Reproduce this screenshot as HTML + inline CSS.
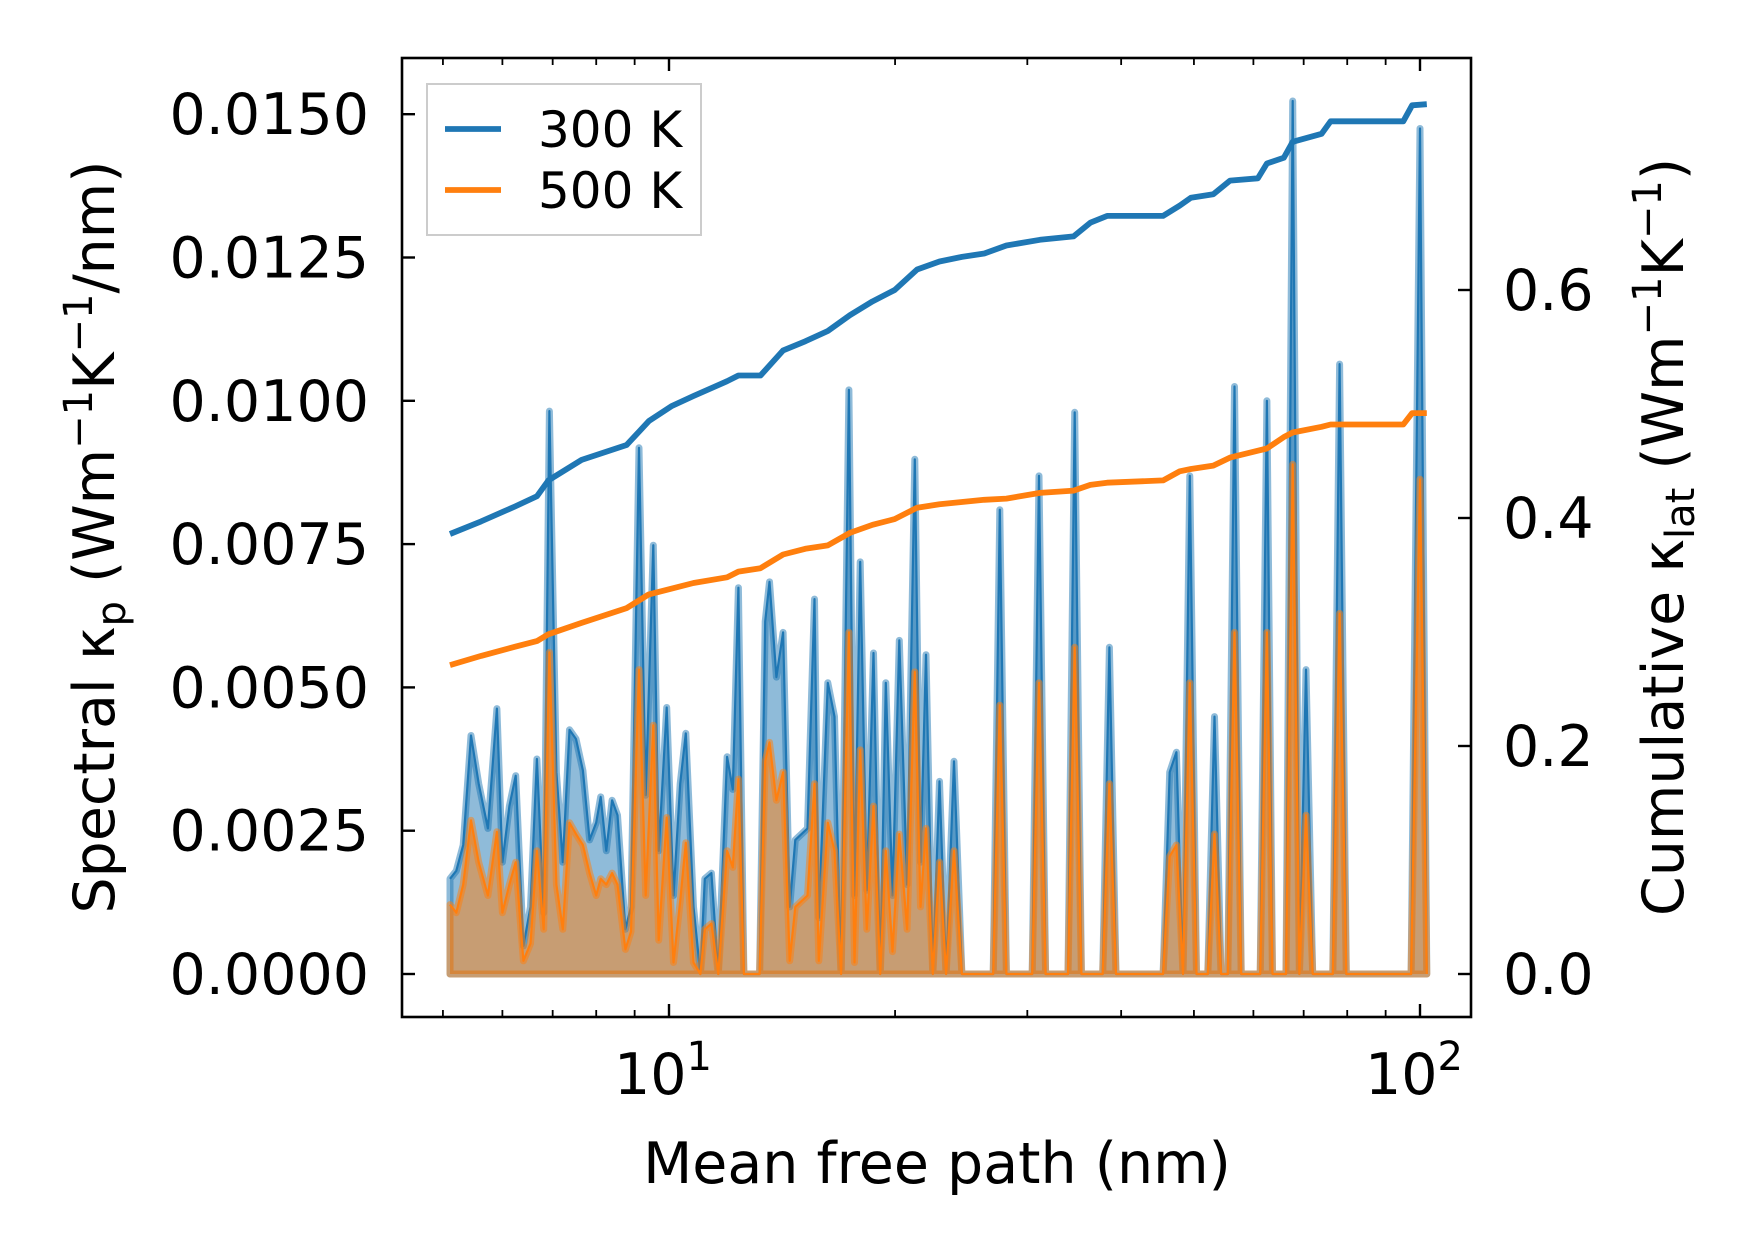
<!DOCTYPE html>
<html><head><meta charset="utf-8"><style>
html,body{margin:0;padding:0;background:#fff}
svg{display:block}
text{font-family:"DejaVu Sans","Liberation Sans",sans-serif;fill:#000}
</style></head><body>
<svg id="chart" width="1753" height="1254" viewBox="0 0 1753 1254" xmlns="http://www.w3.org/2000/svg">
<rect width="1753" height="1254" fill="#fff"/>
<g id="plot"></g>
<g id="axes"></g>
</svg>
<script>
// ---- data ----
const mfp = [5.11,5.21,5.32,5.45,5.58,5.74,5.90,6.00,6.13,6.25,6.40,6.54,6.67,6.81,6.93,7.08,7.22,7.37,7.52,7.68,7.84,8.00,8.11,8.25,8.40,8.54,8.75,8.90,9.12,9.31,9.53,9.69,9.93,10.14,10.35,10.53,10.78,11.01,11.16,11.39,11.63,11.95,12.16,12.37,12.58,12.89,13.20,13.43,13.61,13.90,14.19,14.48,14.73,15.29,15.62,15.83,16.27,16.61,16.95,17.36,17.66,17.97,18.34,18.72,19.11,19.44,19.84,20.26,20.75,21.25,21.62,21.99,22.45,22.92,23.39,23.96,24.55,27.02,27.57,28.14,30.45,31.09,31.73,33.99,34.69,35.41,37.80,38.58,39.37,45.49,46.42,47.39,48.35,49.37,50.40,52.17,53.25,54.35,55.47,56.62,57.80,61.26,62.53,63.62,66.30,67.68,69.08,70.51,71.96,76.54,78.15,79.77,97.3,100,102.1];
const kappa300 = [0.00166,0.00180,0.00225,0.00416,0.00332,0.00254,0.00463,0.00195,0.00293,0.00346,0.00049,0.00117,0.00375,0.00107,0.00982,0.00352,0.00195,0.00426,0.00410,0.00355,0.00234,0.00264,0.00309,0.00215,0.00303,0.00277,0.00078,0.00117,0.00918,0.00312,0.00748,0.00215,0.00465,0.00137,0.00332,0.00420,0.00117,0,0.00166,0.00176,0,0.00379,0.00322,0.00674,0,0,0,0.00615,0.00684,0.00518,0.00596,0.00117,0.00234,0.00254,0.00654,0.00098,0.00508,0.00449,0,0.01019,0.00137,0.00719,0.00146,0.00560,0,0.00508,0.00137,0.00582,0.00156,0.00898,0.00195,0.00557,0,0.00336,0,0.00371,0,0,0.00810,0,0,0.00869,0,0,0.00980,0,0,0.00570,0,0,0.00352,0.00387,0,0.00869,0,0,0.00449,0,0,0.01025,0,0,0.01000,0,0,0.01523,0,0.00531,0,0,0.01064,0,0,0.01475,0];
const kappa500 = [0.00121,0.00107,0.00156,0.00268,0.00195,0.00137,0.00248,0.00107,0.00156,0.00195,0.00023,0.00053,0.00215,0.00078,0.00561,0.00156,0.00078,0.00264,0.00244,0.00225,0.00176,0.00137,0.00166,0.00156,0.00176,0.00156,0.00043,0.00074,0.00531,0.00137,0.00434,0.00059,0.00273,0.00020,0.00127,0.00229,0.00020,0,0.00078,0.00088,0,0.00215,0.00186,0.00340,0,0,0,0.00371,0.00404,0.00303,0.00352,0.00023,0.00117,0.00137,0.00332,0.00023,0.00264,0.00215,0,0.00596,0.00020,0.00391,0.00078,0.00293,0,0.00215,0.00039,0.00244,0.00078,0.00527,0.00117,0.00254,0,0.00195,0,0.00215,0,0,0.00469,0,0,0.00508,0,0,0.00570,0,0,0.00332,0,0,0.00205,0.00225,0,0.00508,0,0,0.00244,0,0,0.00596,0,0,0.00596,0,0,0.00889,0,0.00277,0,0,0.00629,0,0,0.00863,0];
const cumMfp = [5.11,5.62,6.23,6.67,6.91,7.65,8.78,9.40,10.07,10.78,11.95,12.37,13.24,14.19,15.19,16.27,17.42,18.66,19.98,21.40,22.92,24.55,26.29,28.14,31.19,34.57,36.39,38.31,45.49,47.87,49.54,53.06,55.85,60.84,62.53,65.86,67.68,73.96,76.03,95.0,97.6,102.1];
const cum300 = [0.386,0.397,0.410,0.419,0.433,0.451,0.464,0.485,0.498,0.507,0.520,0.525,0.525,0.547,0.555,0.564,0.578,0.590,0.600,0.618,0.625,0.629,0.632,0.639,0.644,0.647,0.659,0.665,0.665,0.674,0.681,0.684,0.696,0.698,0.711,0.716,0.730,0.737,0.748,0.748,0.762,0.763];
const cum500 = [0.271,0.279,0.287,0.292,0.298,0.308,0.321,0.333,0.338,0.343,0.348,0.353,0.356,0.368,0.373,0.376,0.387,0.394,0.399,0.409,0.412,0.414,0.416,0.417,0.422,0.424,0.429,0.431,0.433,0.441,0.443,0.446,0.453,0.459,0.461,0.471,0.475,0.480,0.482,0.482,0.492,0.492];
const leftTicks = [0,0.0025,0.005,0.0075,0.01,0.0125,0.015];
const leftTickLabels = ["0.0000","0.0025","0.0050","0.0075","0.0100","0.0125","0.0150"];
const rightTicks = [0,0.2,0.4,0.6];
const rightTickLabels = ["0.0","0.2","0.4","0.6"];
const xMajor = [10,100];
const xMinor = [5,6,7,8,9,20,30,40,50,60,70,80,90];

// ---- axes geometry ----
const L=402,R=1471,T=58,B=1017;
const X = v => 669 + (Math.log10(v)-1)*751;
const YL = v => 974 - v/0.0025*143.3;
const YR = v => 974 - v*1140;
const NS="http://www.w3.org/2000/svg";
function mk(tag, attrs, parent){const e=document.createElementNS(NS,tag);for(const k in attrs)e.setAttribute(k,attrs[k]);parent.appendChild(e);return e;}
const plot=document.getElementById('plot'), axes=document.getElementById('axes');
const BLUE="#1f77b4", ORANGE="#ff7f0e";

function spectral(vals, color, name){
  let d=`M${X(mfp[0])},${YL(0)}`;
  mfp.forEach((m,i)=>{d+=` L${X(m).toFixed(1)},${YL(vals[i]).toFixed(1)}`;});
  d+=` L${X(mfp[mfp.length-1])},${YL(0)} Z`;
  const f=mk('path',{d:d,fill:color,'fill-opacity':0.5,stroke:'none'},plot);
  
  
  const h=mk('path',{d:d,fill:'none',stroke:color,'stroke-opacity':0.5,'stroke-width':7,'stroke-linejoin':'round'},plot);
  
  
  let d2='';
  mfp.forEach((m,i)=>{d2+=(i?' L':'M')+X(m).toFixed(1)+','+YL(vals[i]).toFixed(1);});
  const l=mk('path',{d:d2,fill:'none',stroke:color,'stroke-width':2.2,'stroke-linejoin':'round'},plot);
  
  
}
spectral(kappa300, BLUE, 'spectral-300k');
spectral(kappa500, ORANGE, 'spectral-500k');

function cum(vals,color,name){
  let d='';
  cumMfp.forEach((m,i)=>{d+=(i?' L':'M')+X(m).toFixed(1)+','+YR(vals[i]).toFixed(1);});
  const l=mk('path',{d:d,fill:'none',stroke:color,'stroke-width':5.8,'stroke-linejoin':'round'},plot);
  
  
}
cum(cum300,BLUE,'cumulative-300k-line');
cum(cum500,ORANGE,'cumulative-500k-line');

// frame
const fr=mk('rect',{x:L,y:T,width:R-L,height:B-T,fill:'none',stroke:'#000','stroke-width':2.6},axes);



// left ticks
leftTicks.forEach((v,i)=>{
  const y=YL(v);
  const t=mk('line',{x1:L,x2:L+13,y1:y,y2:y,stroke:'#000','stroke-width':2.4},axes);
  
  
  const tx=mk('text',{x:369,y:y+20,'font-size':57,'text-anchor':'end'},axes);
  tx.textContent=leftTickLabels[i];
  
  
});
// right ticks
rightTicks.forEach((v,i)=>{
  const y=YR(v);
  const t=mk('line',{x1:R-13,x2:R,y1:y,y2:y,stroke:'#000','stroke-width':2.4},axes);
  
  
  const tx=mk('text',{x:1503,y:y+20,'font-size':57},axes);
  tx.textContent=rightTickLabels[i];
  
  
});
// x ticks
xMajor.forEach(v=>{
  const x=X(v);
  [[B,B-13],[T,T+13]].forEach(p=>{
    const t=mk('line',{x1:x,x2:x,y1:p[0],y2:p[1],stroke:'#000','stroke-width':2.4},axes);
    
    
  });
  const tx=mk('text',{x:x-6,y:1094,'font-size':57,'text-anchor':'middle'},axes);
  
  
  const exp=Math.round(Math.log10(v));
  tx.innerHTML='10<tspan dy="-24" font-size="40">'+exp+'</tspan>';
});
xMinor.forEach(v=>{
  const x=X(v);
  [[B,B-7],[T,T+7]].forEach(p=>{
    const t=mk('line',{x1:x,x2:x,y1:p[0],y2:p[1],stroke:'#000','stroke-width':1.8},axes);
    
    
  });
});
</script>
<svg style="position:absolute;left:0;top:0" width="1753" height="1254">
<text x="937" y="1183" font-size="57" text-anchor="middle">Mean free path (nm)</text>
<text transform="translate(114,537) rotate(-90)" font-size="57" text-anchor="middle">Spectral κ<tspan dy="11" font-size="40">p</tspan><tspan dy="-11"> (Wm</tspan><tspan dy="-22" font-size="40">−1</tspan><tspan dy="22">K</tspan><tspan dy="-22" font-size="40">−1</tspan><tspan dy="22">/nm)</tspan></text>
<text transform="translate(1683,537) rotate(-90)" font-size="57" text-anchor="middle">Cumulative κ<tspan dy="11" font-size="40">lat</tspan><tspan dy="-11"> (Wm</tspan><tspan dy="-22" font-size="40">−1</tspan><tspan dy="22">K</tspan><tspan dy="-22" font-size="40">−1</tspan><tspan dy="22">)</tspan></text>
<g>
<rect x="427" y="84" width="274" height="151" fill="#fff" fill-opacity="0.8" stroke="#ccc" stroke-width="2"/>
<line x1="445" x2="501" y1="129" y2="129" stroke="#1f77b4" stroke-width="5.8"/>
<text x="538" y="147" font-size="50">300 K</text>
<line x1="445" x2="501" y1="190" y2="190" stroke="#ff7f0e" stroke-width="5.8"/>
<text x="538" y="208" font-size="50">500 K</text>
</g>
</svg>
</body></html>
